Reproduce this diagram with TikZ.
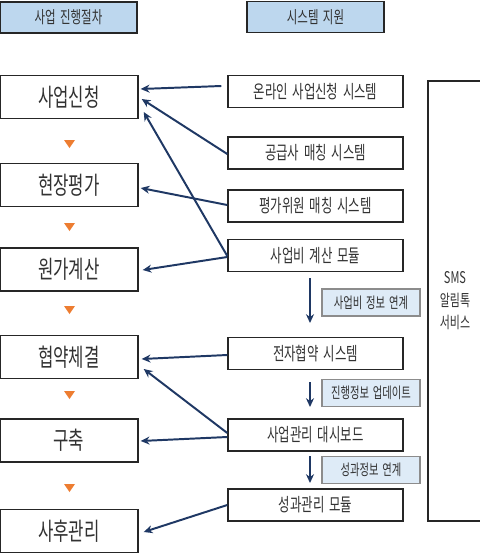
\documentclass[tikz,border=0pt]{standalone}
\usepackage{fontspec}
\newfontfamily\kr[FakeStretch=0.68,WordSpace=1.7]{Noto Sans CJK KR}
\usetikzlibrary{arrows.meta,calc}
\definecolor{hdblue}{RGB}{189,215,238}
\definecolor{lbblue}{RGB}{222,235,247}
\definecolor{navy}{RGB}{31,56,100}
\definecolor{steporange}{RGB}{237,125,49}
\definecolor{txtgray}{RGB}{50,50,50}

\begin{document}
\begin{tikzpicture}[x=0.025cm, y=-0.025cm,
    every node/.style={font=\kr, text=txtgray},
    header/.style={draw=black!85, line width=1pt, fill=hdblue, minimum width=3.425cm, minimum height=0.775cm, font=\kr\fontsize{12}{14}\selectfont},
    stage/.style={draw=black!85, line width=1pt, minimum width=3.45cm, minimum height=1.07cm, font=\kr\fontsize{17.5}{20}\selectfont},
    sysbox/.style={draw=black!85, line width=1pt, minimum width=4.375cm, minimum height=0.8cm, font=\kr\fontsize{13}{15}\selectfont},
    infobox/.style={draw=black!45, line width=0.8pt, fill=lbblue, minimum width=2.45cm, minimum height=0.675cm, font=\kr\fontsize{10.8}{12}\selectfont},
    link/.style={draw=navy, line width=1.4pt, -{Stealth[length=2.2mm,width=2mm]}}]
    \useasboundingbox (0,0) rectangle (480,559);

    % headers
    \node[header] (H1) at (68.5,17.5) {사업 진행절차};
    \node[header] (H2) at (315.5,17) {시스템 지원};

    % project stages
    \node[stage] (A1) at (69,97) {사업신청};
    \node[stage] (A2) at (69,185) {현장평가};
    \node[stage] (A3) at (69,269.5) {원가계산};
    \node[stage] (A4) at (69,357) {협약체결};
    \node[stage] (A5) at (69,440.5) {구축};
    \node[stage] (A6) at (69,531) {사후관리};
    \foreach \y in {144,227,310,395,488} {
        \fill[steporange] (64,\y-4) -- (75,\y-4) -- (69.5,\y+4) -- cycle;
    }

    % support systems
    \node[sysbox] (S1) at (315.5,91.5) {온라인 사업신청 시스템};
    \node[sysbox] (S2) at (315.5,153) {공급사 매칭 시스템};
    \node[sysbox] (S3) at (315.5,206) {평가위원 매칭 시스템};
    \node[sysbox] (S4) at (315.5,255.5) {사업비 계산 모듈};
    \node[sysbox] (S5) at (315.5,353.5) {전자협약 시스템};
    \node[sysbox] (S6) at (315.5,435) {사업관리 대시보드};
    \node[sysbox] (S7) at (315.5,505) {성과관리 모듈};

    % data links
    \node[infobox] (L1) at (371,302.5) {사업비 정보 연계};
    \node[infobox] (L2) at (371,393) {진행정보 업데이트};
    \node[infobox] (L3) at (371,470) {성과정보 연계};

    % SMS
    \node[draw=black!85, line width=1pt, minimum width=1.35cm, minimum height=11cm, align=center,
          font=\kr\fontsize{11.5}{16}\selectfont] (SMS) at (455,301) {SMS\\알림톡\\서비스};

    % arrows to stages
    \draw[link] ($(S1.west)+(-6,-5.5)$) -- ($(A1.east)+(2,-8)$);
    \draw[link] ($(S2.west)+(0,1)$) -- ($(A1.east)+(3,2)$);
    \draw[link] ($(S4.west)+(0,0.5)$) -- ($(A1.east)+(5,15)$);
    \draw[link] ($(S3.west)+(0,-1)$) -- ($(A2.east)+(2,3)$);
    \draw[link] ($(S4.west)+(0,1.5)$) -- ($(A3.east)+(4,0.5)$);
    \draw[link] ($(S5.west)+(0,1.5)$) -- ($(A4.east)+(3,2)$);
    \draw[link] ($(S6.west)+(0,-2)$) -- ($(A4.east)+(5,12)$);
    \draw[link] ($(S6.west)+(0,2)$) -- ($(A5.east)+(2,0.5)$);
    \draw[link] ($(S7.west)+(0,0)$) -- ($(A6.east)+(5,1)$);

    % vertical flow
    \coordinate (v1a) at (310,278);
    \coordinate (v1b) at (310,323);
    \coordinate (v2a) at (310,382);
    \coordinate (v2b) at (310,407);
    \coordinate (v3a) at (310,456);
    \coordinate (v3b) at (310,483);
    \draw[link] (v1a) -- (v1b);
    \draw[link] (v2a) -- (v2b);
    \draw[link] (v3a) -- (v3b);
\end{tikzpicture}
\end{document}
